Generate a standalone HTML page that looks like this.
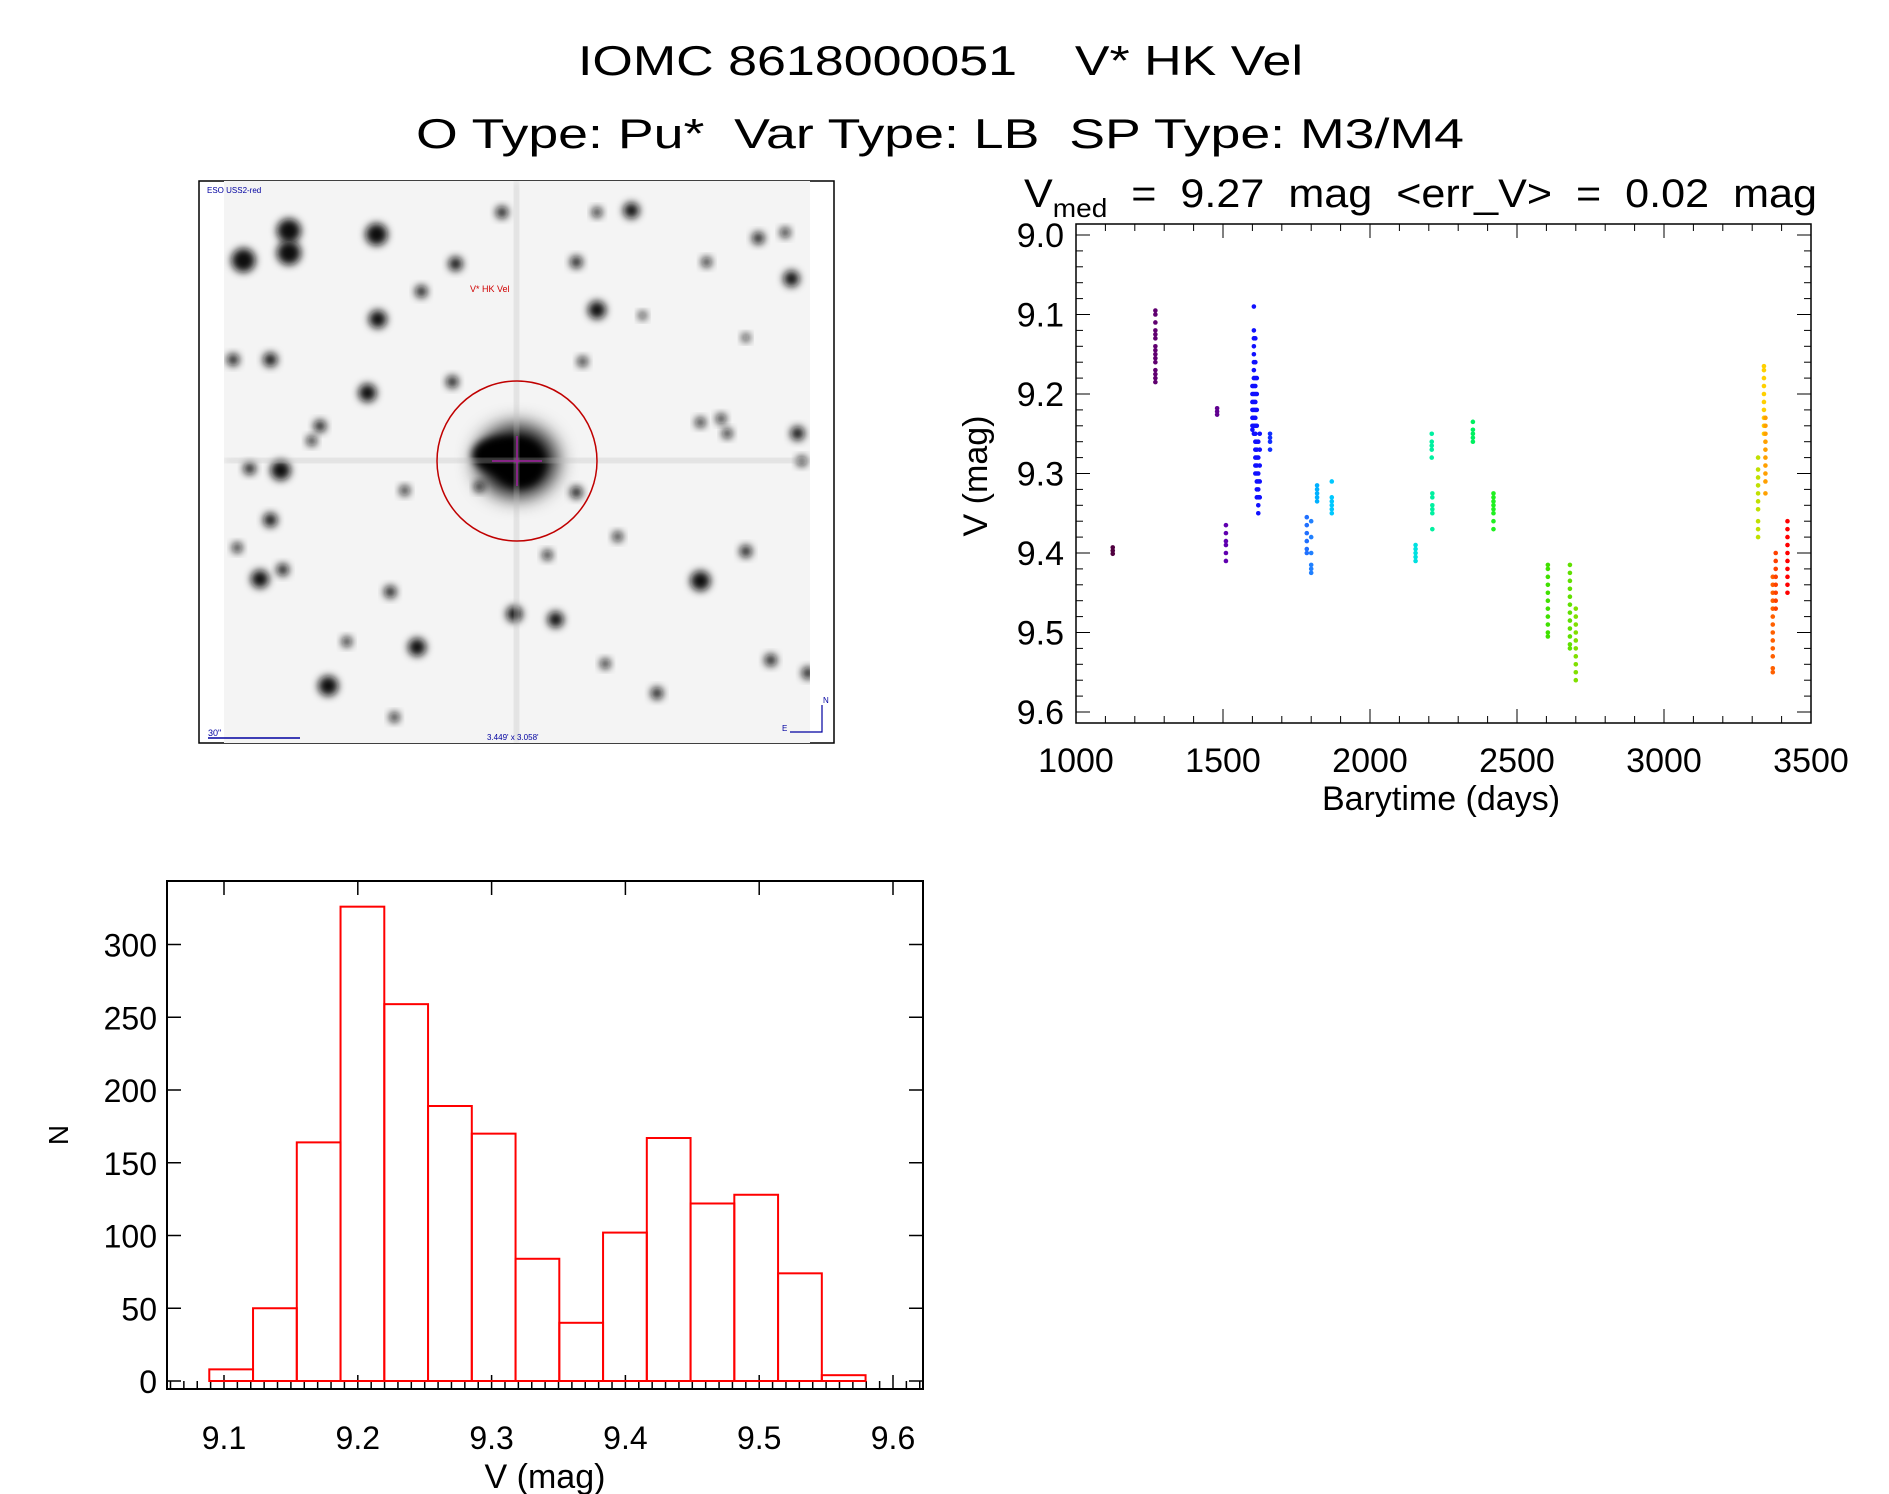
<!DOCTYPE html>
<html><head><meta charset="utf-8"><style>
html,body{margin:0;padding:0;background:#fff;}
svg{display:block;font-family:"Liberation Sans",sans-serif;}
</style></head><body>
<svg id="root" width="1889" height="1494" viewBox="0 0 1889 1494">
<defs>
<filter id="blur3" x="-50%" y="-50%" width="200%" height="200%"><feGaussianBlur stdDeviation="4"/></filter>
<filter id="blur8" x="-50%" y="-50%" width="200%" height="200%"><feGaussianBlur stdDeviation="10"/></filter>
<clipPath id="imgclip"><rect x="224" y="181" width="586" height="562"/></clipPath>
</defs>
<g fill="#000">
<text x="578" y="75" font-size="42" textLength="725" lengthAdjust="spacingAndGlyphs" xml:space="preserve">IOMC 8618000051    V* HK Vel</text>
<text x="416" y="148" font-size="42" textLength="1048" lengthAdjust="spacingAndGlyphs" xml:space="preserve">O Type: Pu*  Var Type: LB  SP Type: M3/M4</text>
</g>
<g>
<rect x="199" y="181" width="635" height="562" fill="#fff" stroke="#000" stroke-width="1.5"/>
<rect x="224" y="181" width="586" height="562" fill="#f4f4f4"/>
<g id="stars" clip-path="url(#imgclip)"></g>
<circle cx="517" cy="461" r="80" fill="none" stroke="#c00000" stroke-width="1.5"/>
<line x1="492" y1="461" x2="542" y2="461" stroke="#a020a0" stroke-width="1.5"/>
<line x1="517" y1="436" x2="517" y2="486" stroke="#a020a0" stroke-width="1.5"/>
<text x="470" y="292" font-size="9" fill="#d00000">V* HK Vel</text>
<text x="207" y="193" font-size="8" fill="#0000a0">ESO USS2-red</text>
<text x="208" y="736" font-size="9" fill="#0000a0">30"</text>
<line x1="208" y1="738" x2="300" y2="738" stroke="#0000a0" stroke-width="1.5"/>
<text x="487" y="740" font-size="8" fill="#0000a0">3.449' x 3.058'</text>
<text x="782" y="731" font-size="8" fill="#0000a0">E</text>
<text x="823" y="703" font-size="8" fill="#0000a0">N</text>
<polyline points="790,732 822,732 822,705" fill="none" stroke="#0000a0" stroke-width="1.2"/>
</g>
<g>
<text x="1024" y="207" font-size="40" textLength="793" lengthAdjust="spacingAndGlyphs" xml:space="preserve">V<tspan font-size="26" dy="10">med</tspan><tspan dy="-10" xml:space="preserve">  =  9.27  mag  &lt;err_V&gt;  =  0.02  mag</tspan></text>
<g id="lcaxes"></g>
<g id="lcpoints"></g>
<rect x="1076" y="224" width="735" height="499" fill="none" stroke="#000" stroke-width="1.5"/>
<text x="1441" y="810" font-size="34" text-anchor="middle">Barytime (days)</text>
<text x="0" y="0" font-size="34" text-anchor="middle" transform="translate(987,476) rotate(-90)">V (mag)</text>
</g>
<g>
<g id="histaxes"></g>
<g id="histbars"></g>
<rect x="167" y="881" width="756" height="508" fill="none" stroke="#000" stroke-width="2"/>
<text x="545" y="1488" font-size="34" text-anchor="middle">V (mag)</text>
<text x="0" y="0" font-size="28" text-anchor="middle" transform="translate(68,1135) rotate(-90)">N</text>
</g>
</svg>
<script>
const NS='http://www.w3.org/2000/svg';
const starFx=[225,115,225,437,628,1053,970,920,1235,1440,1360,1425,545,440,970,180,90,415,620,935,205,130,1455,1220,1285,180,100,155,210,1220,1330,770,870,535,320,365,1115,1390,480,920,685,505,1020,850,1480,470,990,1465,740,1330,1080,300,280,1270];
const starFy=[150,230,210,160,240,95,100,235,235,280,170,155,315,390,365,500,500,590,560,505,800,795,700,670,700,935,1010,1095,1070,1100,1020,1190,1205,1280,1385,1265,1405,1315,1470,860,845,855,980,1030,1350,1130,1325,775,100,440,380,680,720,660];
const starR=[12,12,12,11,7,8,5,6,5,8,6,5,6,9,9,7,6,9,6,5,10,6,7,5,5,7,5,9,6,10,6,8,8,9,10,5,6,6,5,6,5,5,5,5,6,6,5,5,6,4,4,6,5,5];
const sg=document.getElementById('stars');
function sx(f){return 224+(f-68)/1417*586;}
function sy(f){return 181+(f-15)/1525*562;}
for(let i=0;i<starFx.length;i++){
  const c=document.createElementNS(NS,'circle');
  
  
  c.setAttribute('cx',sx(starFx[i]));c.setAttribute('cy',sy(starFy[i]));
  c.setAttribute('r',starR[i]);c.setAttribute('fill','#111');c.setAttribute('filter','url(#blur3)');
  sg.appendChild(c);
}
(function(){
  const g=document.createElementNS(NS,'g');
  
  
  g.innerHTML='<ellipse cx="517" cy="461" rx="40" ry="36" fill="#000" filter="url(#blur8)"/><ellipse cx="500" cy="455" rx="28" ry="18" fill="#000" filter="url(#blur3)"/><circle cx="520" cy="463" r="24" fill="#000" filter="url(#blur3)"/><rect x="224" y="459" width="586" height="3" fill="#bbb" filter="url(#blur3)"/><rect x="515" y="181" width="3" height="562" fill="#bbb" filter="url(#blur3)"/>';
  sg.appendChild(g);
})();

// ---- light curve ----
const lcTimes=[1125,1270,1480,1510,1600,1605,1610,1615,1620,1625,1660,1785,1800,1820,1870,2155,2210,2212,2350,2420,2605,2680,2700,3320,3340,3345,3370,3380,3420];
const lcMags=[
 [9.393,9.397,9.401],
 [9.095,9.10,9.11,9.12,9.125,9.13,9.14,9.145,9.15,9.155,9.16,9.17,9.175,9.18,9.185],
 [9.218,9.222,9.226],
 [9.365,9.375,9.385,9.39,9.40,9.41],
 [9.19,9.20,9.21,9.22,9.23,9.24,9.245],
 [9.09,9.12,9.13,9.14,9.15,9.16,9.17,9.18,9.19,9.20,9.21,9.22,9.23,9.24,9.25],
 [9.13,9.16,9.18,9.19,9.20,9.21,9.22,9.23,9.24,9.25,9.26,9.27,9.28,9.29,9.30],
 [9.18,9.20,9.22,9.24,9.26,9.27,9.28,9.29,9.30,9.31,9.32,9.33],
 [9.26,9.28,9.30,9.31,9.32,9.33,9.34,9.35],
 [9.25,9.27,9.29,9.31,9.33],
 [9.25,9.255,9.26,9.27],
 [9.355,9.365,9.375,9.385,9.395,9.40],
 [9.36,9.38,9.40,9.415,9.42,9.425],
 [9.315,9.32,9.325,9.33,9.335],
 [9.31,9.33,9.335,9.34,9.345,9.35],
 [9.39,9.395,9.40,9.405,9.41],
 [9.25,9.26,9.265,9.27,9.28],
 [9.325,9.33,9.34,9.345,9.35,9.37],
 [9.235,9.245,9.25,9.255,9.26],
 [9.325,9.33,9.335,9.34,9.345,9.35,9.36,9.37],
 [9.415,9.42,9.43,9.44,9.45,9.46,9.47,9.48,9.49,9.50,9.505],
 [9.415,9.425,9.435,9.445,9.455,9.465,9.475,9.485,9.495,9.505,9.515,9.52],
 [9.47,9.48,9.49,9.50,9.51,9.52,9.53,9.54,9.55,9.56],
 [9.28,9.295,9.305,9.315,9.325,9.335,9.345,9.36,9.37,9.38],
 [9.165,9.17,9.18,9.19,9.20,9.21,9.22,9.23,9.24,9.25],
 [9.23,9.24,9.25,9.26,9.27,9.28,9.29,9.30,9.31,9.325],
 [9.43,9.44,9.45,9.46,9.47,9.48,9.49,9.50,9.51,9.52,9.53,9.545,9.55],
 [9.40,9.41,9.42,9.43,9.44,9.45,9.46,9.47],
 [9.36,9.37,9.38,9.39,9.40,9.41,9.42,9.43,9.44,9.45]
];
const lcColors=['#500040','#600070','#600090','#6000b0','#1010ff','#1010ff','#1010ff','#1010ff','#1010ff','#1010ff','#1030ff','#2070ff','#2080ff','#00b0ff','#00c8ff','#00e0e0','#00f0a0','#00f0a0','#00f060','#20f020','#40e000','#60e000','#80e000','#c0e000','#ffd000','#ffa000','#ff6000','#ff4000','#ff0000'];
const lcXTicks=[1000,1500,2000,2500,3000,3500];
const lcYTicks=[9.0,9.1,9.2,9.3,9.4,9.5,9.6];
function lx(t){return 1076+(t-1000)/2500*735;}
function ly(m){return 235+(m-9.0)/0.6*477;}
const lca=document.getElementById('lcaxes');
function line(g,x1,y1,x2,y2,w,name){
  const l=document.createElementNS(NS,'line');
  
  
  l.setAttribute('x1',x1);l.setAttribute('y1',y1);l.setAttribute('x2',x2);l.setAttribute('y2',y2);
  l.setAttribute('stroke','#000');l.setAttribute('stroke-width',w);g.appendChild(l);
}
function txt(g,x,y,s,size,anchor,name){
  const t=document.createElementNS(NS,'text');
  
  
  t.setAttribute('x',x);t.setAttribute('y',y);t.setAttribute('font-size',size);t.setAttribute('text-anchor',anchor);
  t.textContent=s;g.appendChild(t);
}
for(let t=1000;t<=3500;t+=100){
  const major=(t%500===0);const L=major?14:7;
  line(lca,lx(t),723,lx(t),723-L,1,'x-tick');
  line(lca,lx(t),224,lx(t),224+L,1,'x-tick');
}
lcXTicks.forEach(t=>txt(lca,lx(t),772,String(t),34,'middle','x-tick-label'));
for(let k=-5;k<=32;k++){
  const m=9.0+k*0.02;const y=ly(m);if(y<224||y>723)continue;
  const major=(k%5===0);const L=major?14:7;
  line(lca,1076,y,1076+L,y,1,'y-tick');
  line(lca,1811,y,1811-L,y,1,'y-tick');
}
lcYTicks.forEach(m=>txt(lca,1064,ly(m)+12,m.toFixed(1),34,'end','y-tick-label'));
const lcp=document.getElementById('lcpoints');
lcTimes.forEach((t,i)=>{
  lcMags[i].forEach(m=>{
    const c=document.createElementNS(NS,'circle');
    
    
    c.setAttribute('cx',lx(t));c.setAttribute('cy',ly(m));c.setAttribute('r',2.3);c.setAttribute('fill',lcColors[i]);
    lcp.appendChild(c);
  });
});

// ---- histogram ----
const histStart=9.089;
const histBinWidth=0.0327;
const histCounts=[8,50,164,326,259,189,170,84,40,102,167,122,128,74,4];
const histXTicks=[9.1,9.2,9.3,9.4,9.5,9.6];
const histYTicks=[0,50,100,150,200,250,300];
function hx(v){return 224+(v-9.1)/0.5*669;}
function hy(n){return 1381-n/300*436.5;}
const ha=document.getElementById('histaxes');
for(let k=-4;k<=52;k++){
  const v=9.1+k*0.01;const x=hx(v);if(x<167||x>923)continue;
  const major=(k%10===0);
  line(ha,x,1389,x,1389-(major?14:8),1.5,'x-tick');
  if(major) line(ha,x,881,x,895,1.5,'x-tick');
}
histXTicks.forEach(v=>txt(ha,hx(v),1449,v.toFixed(1),32,'middle','x-tick-label'));
histYTicks.forEach(n=>{
  line(ha,167,hy(n),181,hy(n),1.5,'y-tick');
  line(ha,923,hy(n),909,hy(n),1.5,'y-tick');
  txt(ha,157,hy(n)+12,String(n),32,'end','y-tick-label');
});
const hb=document.getElementById('histbars');
histCounts.forEach((n,i)=>{
  const x0=hx(histStart+i*histBinWidth),x1=hx(histStart+(i+1)*histBinWidth);
  const r=document.createElementNS(NS,'rect');
  
  
  r.setAttribute('x',x0);r.setAttribute('y',hy(n));r.setAttribute('width',x1-x0);r.setAttribute('height',hy(0)-hy(n));
  r.setAttribute('fill','none');r.setAttribute('stroke','#ff0000');r.setAttribute('stroke-width',2);
  hb.appendChild(r);
});
</script>
</body></html>
